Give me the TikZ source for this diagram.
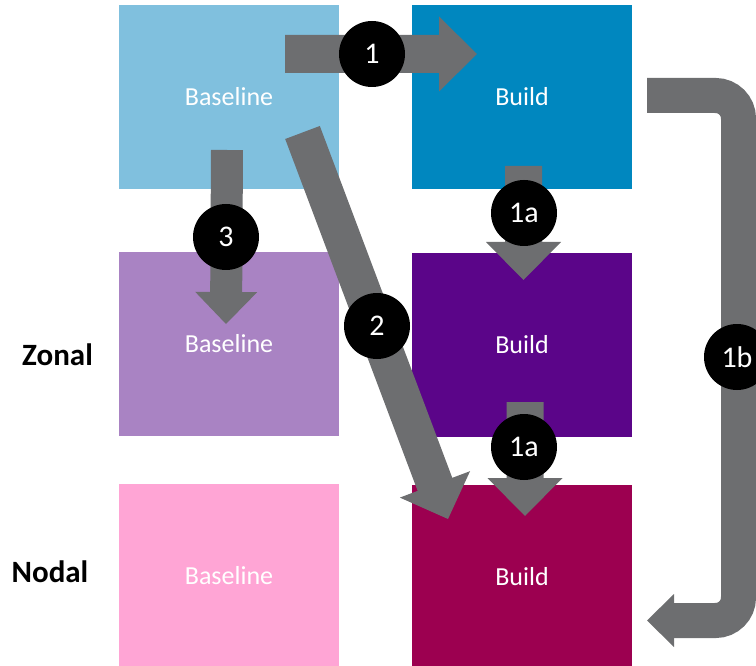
\documentclass[tikz,border=0pt]{standalone}
\usepackage{fontspec}
\setmainfont{Carlito}
\usetikzlibrary{calc}

\definecolor{baseTop}{HTML}{80C0DE}
\definecolor{buildTop}{HTML}{0087BF}
\definecolor{baseZone}{HTML}{A983C3}
\definecolor{buildZone}{HTML}{5B0589}
\definecolor{baseNode}{HTML}{FFA5D5}
\definecolor{buildNode}{HTML}{9C0050}
\definecolor{arrowgray}{HTML}{6D6E70}

\tikzset{
  cell/.style={rectangle, minimum width=220pt, minimum height=184pt, inner sep=0pt,
    text=white, font=\fontsize{26}{30}\selectfont},
  badge/.style={circle, fill=black, minimum size=66pt, inner sep=0pt,
    text=white, font=\fontsize{30}{34}\selectfont},
  rowlabel/.style={font=\bfseries\fontsize{31}{35}\selectfont, text=black, inner sep=0pt},
}

% block arrow: #1 start, #2 tip, #3 half shaft width, #4 half head width, #5 head length
\newcommand{\blockarrow}[5]{%
  \coordinate (hb) at ($(#2)!#5!(#1)$);
  \fill[arrowgray] ($(#1)!#3!90:(#2)$) -- ($(hb)!#3!90:(#2)$) -- ($(hb)!#4!90:(#2)$)
    -- (#2) -- ($(hb)!#4!-90:(#2)$) -- ($(hb)!#3!-90:(#2)$) -- ($(#1)!#3!-90:(#2)$) -- cycle;
}

\begin{document}
\begin{tikzpicture}[x=1pt, y=-1pt]
\useasboundingbox (0,0) rectangle (756,666);
\clip (0,0) rectangle (756,666);

% grid of boxes
\node[cell, fill=baseTop]   (baseT)  at (229,97)  {Baseline};
\node[cell, fill=buildTop]  (buildT) at (522,97)  {Build};
\node[cell, fill=baseZone]  (baseZ)  at (229,344) {Baseline};
\node[cell, fill=buildZone] (buildZ) at (522,345) {Build};
\node[cell, fill=baseNode]  (baseN)  at (229,576) {Baseline};
\node[cell, fill=buildNode] (buildN) at (522,577) {Build};

% row labels
\node[rowlabel] (lz) at (57.5,355) {Zonal};
\node[rowlabel] (ln) at (50,572) {Nodal};

% arrow end points
\coordinate (a1s) at (285,54);    \coordinate (a1t) at (477,54);
\coordinate (a1as) at (523.5,166); \coordinate (a1at) at (523.5,280);
\coordinate (a1bs) at (525,402);  \coordinate (a1bt) at (525,516);
\coordinate (a3s) at (227,150);   \coordinate (a3t) at (226,324);
\coordinate (a2s) at (302.5,132.5); \coordinate (a2t) at (448,519);

\blockarrow{a1s}{a1t}{19pt}{37.5pt}{38pt}
\blockarrow{a1as}{a1at}{18.5pt}{37.5pt}{38pt}
\blockarrow{a1bs}{a1bt}{18.5pt}{37.5pt}{38pt}
\blockarrow{a3s}{a3t}{16pt}{31pt}{32pt}
\blockarrow{a2s}{a2t}{18.5pt}{37.5pt}{37pt}

% return arrow along the right side
\coordinate (r1s) at (647,95.5);
\coordinate (r1e) at (670,620.5);
\coordinate (r1b) at (674,620.5);
\coordinate (r1t) at (647,620.5);
\draw[arrowgray, line width=35pt, rounded corners=23pt]
  (r1s) -- (738.5,95.5) -- (738.5,620.5) -- (r1e);
\fill[arrowgray] ($(r1b)!26.5pt!90:(r1t)$) -- (r1t) -- ($(r1b)!26.5pt!-90:(r1t)$) -- cycle;

% step badges
\node[badge] (s1)  at (372,54)  {1};
\node[badge] (s1a) at (524,213) {1a};
\node[badge] (s1b) at (524,447) {1a};
\node[badge] (s3)  at (226,237) {3};
\node[badge] (s2)  at (377,326) {2};
\node[badge] (s1c) at (737,357) {1b};
\end{tikzpicture}
\end{document}
